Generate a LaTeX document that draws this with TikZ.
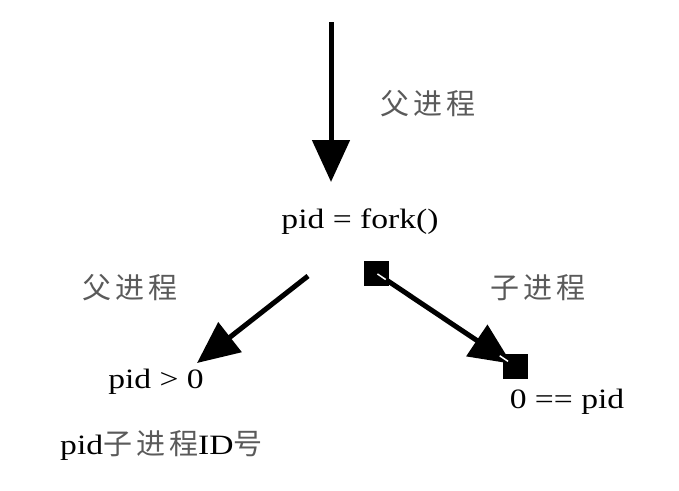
\documentclass[tikz,border=0pt]{standalone}
\usepackage{fontspec}
\setmainfont{Liberation Serif}[FakeStretch=1.2]
\newfontfamily\cjk{Noto Sans CJK SC}
\usetikzlibrary{arrows.meta,calc}
\definecolor{cjkgray}{HTML}{5A5A5A}
\begin{document}
\begin{tikzpicture}[x=1pt,y=-1pt,
  arr/.style={line width=5pt, -{Triangle[length=42pt,width=37pt]}},
  lbl/.style={font=\fontsize{28}{30}\selectfont, inner sep=0pt},
  cn/.style={font=\fontsize{29}{30}\selectfont\cjk, text=cjkgray, inner sep=0pt},
  sq/.style={fill=black, minimum size=25pt, inner sep=0pt},
  glint/.style={white, line width=1.5pt}]
\useasboundingbox (0,0) rectangle (679,490);
% texts
\node[lbl, anchor=base] (fork) at (360,228) {pid = fork()};
\node[lbl, anchor=base] (gt) at (156,388) {pid > 0};
\node[lbl, anchor=base west] (note) at (60,454) {pid{\fontsize{29}{30}\selectfont\cjk\color{cjkgray}子\hspace{4pt}进\hspace{4pt}程}ID{\fontsize{29}{30}\selectfont\cjk\color{cjkgray}号}};
\node[lbl, anchor=base] (eq) at (567,408) {0 == pid};
\node[cn] (ptop) at (428,104) {父\hspace{4pt}进\hspace{4pt}程};
\node[cn] (pleft) at (130,288) {父\hspace{4pt}进\hspace{4pt}程};
\node[cn] (cright) at (538,288) {子\hspace{4pt}进\hspace{4pt}程};
% squares
\node[sq] (s1) at (376,273) {};
\node[sq] (s2) at (515,366) {};
% coordinates
\coordinate (top) at (331,22);
\coordinate (topend) at (331,182);
\coordinate (lstart) at (308,276);
\coordinate (lend) at (197,363);
% arrows
\draw[arr] (top) -- (topend);
\draw[arr] (lstart) -- (lend);
\draw[arr, shorten >=4pt] (s1.center) -- (s2.center);
\draw[glint] ($(s1.center)!0.01!(s2.center)$) -- ($(s1.center)!0.07!(s2.center)$);
\draw[glint] ($(s1.center)!0.89!(s2.center)$) -- ($(s1.center)!0.95!(s2.center)$);
\end{tikzpicture}
\end{document}
